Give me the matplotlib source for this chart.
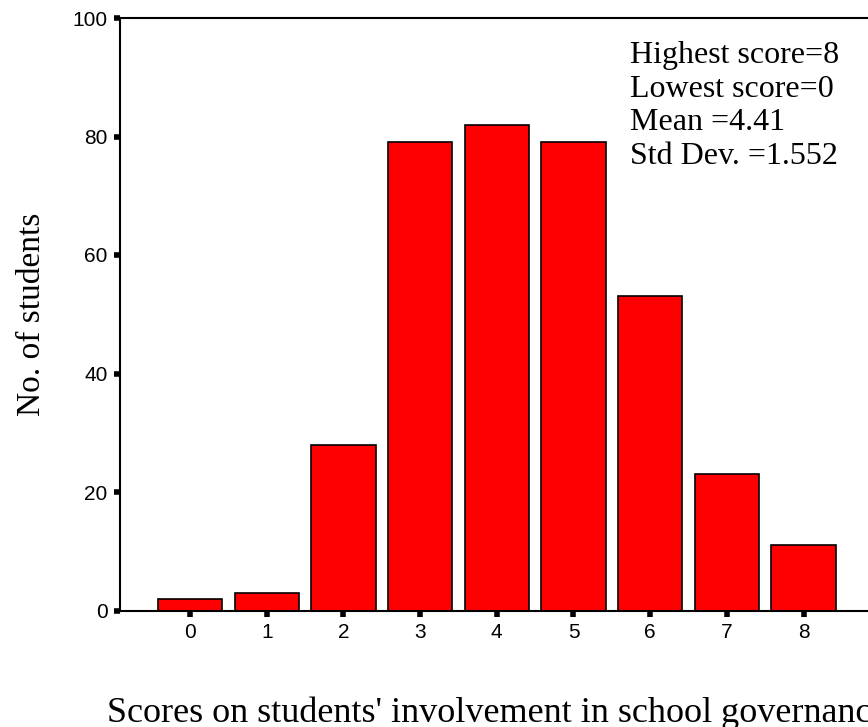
import matplotlib
matplotlib.use("Agg")
import matplotlib.pyplot as plt

scores = [0, 1, 2, 3, 4, 5, 6, 7, 8]
students = [2, 3, 28, 79, 82, 79, 53, 23, 11]
y_ticks = [0, 20, 40, 60, 80, 100]
stats_lines = ["Highest score=8", "Lowest score=0", "Mean =4.41", "Std Dev. =1.552"]

fig = plt.figure(figsize=(8.68, 7.27), dpi=100)
# axes run past the right edge, like the cropped original
ax = fig.add_axes([120 / 868, 1 - 610.5 / 727, 753.6 / 868, 592.5 / 727])

ax.bar(scores, students, width=0.84, color="#ff0000", edgecolor="black", linewidth=1.2)

ax.set_xlim(-0.913, 8.913)
ax.set_ylim(0, 100)
ax.set_xticks(scores)
ax.set_yticks(y_ticks)

for side in ["top", "left", "bottom", "right"]:
    ax.spines[side].set_linewidth(1.5)

ax.tick_params(direction="out", length=4, width=4, labelsize=15, pad=5)
for lab in ax.get_xticklabels() + ax.get_yticklabels():
    lab.set_fontfamily("Liberation Sans")

serif = "Liberation Serif"
ax.set_ylabel("No. of students", fontsize=24, family=serif, labelpad=18)
fig.text(496.8 / 868, 1 - 722 / 727, "Scores on students' involvement in school governance",
         fontsize=26, family=serif, ha="center", va="baseline")

for i, line in enumerate(stats_lines):
    ax.text(0.6768, 0.9236 - i * 0.0564, line, transform=ax.transAxes,
            fontsize=23, family=serif, ha="left", va="baseline")

fig.savefig("out.png", dpi=100)
